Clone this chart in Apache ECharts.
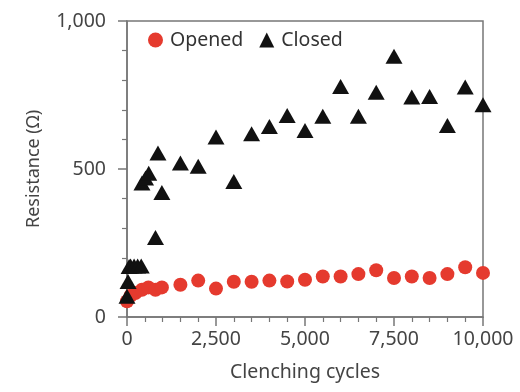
<!DOCTYPE html>
<html><head><meta charset="utf-8">
<script src="https://cdn.jsdelivr.net/npm/echarts@6/dist/echarts.min.js"></script>
<style>html,body{margin:0;padding:0;background:#fff}#c{width:520px;height:392px}</style>
</head><body><div id="c"></div>
<script>
var seriesNames = ['Opened', 'Closed'];
var openedX = [0, 100, 235, 420, 600, 800, 980, 1500, 2000, 2500, 3000, 3500, 4000, 4500, 5000, 5500, 6000, 6500, 7000, 7500, 8000, 8500, 9000, 9500, 10000];
var openedY = [53, 72, 81, 92, 100, 92, 100, 109, 123, 96, 119, 119, 123, 120, 126, 137, 137, 145, 158, 132, 137, 132, 145, 168, 149];
var closedX = [0, 30, 60, 100, 200, 300, 400, 420, 520, 610, 800, 870, 980, 1500, 2000, 2500, 3000, 3500, 4000, 4500, 5000, 5500, 6000, 6500, 7000, 7500, 8000, 8500, 9000, 9500, 10000];
var closedY = [70, 120, 171, 172, 172, 172, 172, 453, 470, 486, 269, 554, 421, 520, 509, 608, 458, 619, 644, 681, 630, 678, 779, 678, 759, 881, 743, 745, 647, 777, 717];
var xTicks = [0, 2500, 5000, 7500, 10000];
var yTicks = [0, 500, 1000];

function pair(xs, ys) { return xs.map(function (x, i) { return [x, ys[i]]; }); }
function fmt(v) { return String(v).replace(/\B(?=(\d{3})+(?!\d))/g, ','); }

var font = 'Noto Sans';
var txt = '#444';
var axisCol = '#777';
var chart = echarts.init(document.getElementById('c'));
chart.setOption({
  animation: false,
  textStyle: { fontFamily: font },
  grid: { left: 127, right: 37, top: 21, bottom: 75, show: true, borderColor: axisCol, borderWidth: 1.5, outerBoundsMode: 'none', containLabel: false },
  legend: {
    left: 143, top: 25, itemWidth: 15, itemHeight: 15, itemGap: 16,
    textStyle: { fontSize: 19.5, color: '#333', fontFamily: font, padding: [0, 0, 0, 2] },
    data: [{ name: seriesNames[0], icon: 'circle' }, { name: seriesNames[1], icon: 'triangle' }]
  },
  xAxis: {
    type: 'value', min: xTicks[0], max: xTicks[xTicks.length - 1], interval: 2500,
    name: 'Clenching cycles', nameLocation: 'middle', nameGap: 45,
    nameTextStyle: { fontSize: 19.5, color: txt, fontFamily: font },
    axisLine: { show: true, lineStyle: { color: axisCol, width: 1.5 } },
    axisTick: { show: true, length: 9, lineStyle: { color: axisCol, width: 1.5 } },
    minorTick: { show: true, splitNumber: 5, length: 5, lineStyle: { color: axisCol, width: 1.2 } },
    splitLine: { show: false },
    axisLabel: { fontSize: 19.5, color: txt, margin: 12, formatter: fmt }
  },
  yAxis: {
    type: 'value', min: yTicks[0], max: yTicks[yTicks.length - 1], interval: 500,
    name: 'Resistance (Ω)', nameLocation: 'middle', nameGap: 84,
    nameTextStyle: { fontSize: 18, color: txt, fontFamily: font },
    axisLine: { show: true, lineStyle: { color: axisCol, width: 1.5 } },
    axisTick: { show: true, length: 9, lineStyle: { color: axisCol, width: 1.5 } },
    minorTick: { show: true, splitNumber: 5, length: 5, lineStyle: { color: axisCol, width: 1.2 } },
    splitLine: { show: false },
    axisLabel: { fontSize: 19.5, color: txt, margin: 21, formatter: fmt }
  },
  series: [
    { name: seriesNames[0], type: 'scatter', symbol: 'circle', symbolSize: 14, itemStyle: { color: '#e53a2e', opacity: 1 }, data: pair(openedX, openedY), z: 2 },
    { name: seriesNames[1], type: 'scatter', symbol: 'triangle', symbolSize: [17, 15], itemStyle: { color: '#111', opacity: 1 }, data: pair(closedX, closedY), z: 3 }
  ]
});
</script></body></html>
